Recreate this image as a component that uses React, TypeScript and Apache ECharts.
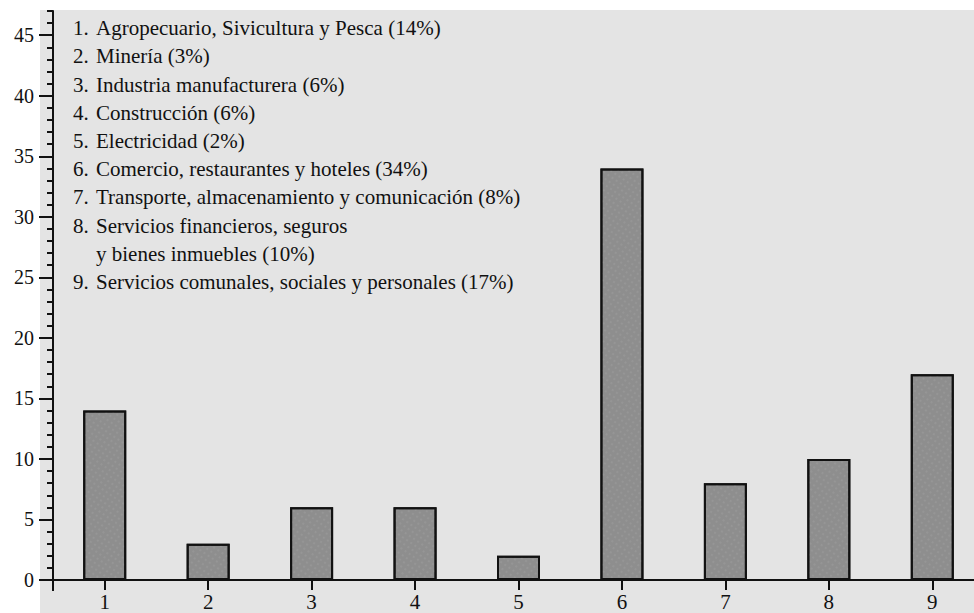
import React, { useEffect, useRef } from "react";
import * as echarts from "echarts";

const categories = ["1", "2", "3", "4", "5", "6", "7", "8", "9"];
const values = [14, 3, 6, 6, 2, 34, 8, 10, 17];
const legendNumbers = ["1.", "2.", "3.", "4.", "5.", "6.", "7.", "8.", "", "9."];
const legendLabels = [
  "Agropecuario, Sivicultura y Pesca (14%)",
  "Minería (3%)",
  "Industria manufacturera (6%)",
  "Construcción (6%)",
  "Electricidad (2%)",
  "Comercio, restaurantes y hoteles (34%)",
  "Transporte, almacenamiento y comunicación (8%)",
  "Servicios financieros, seguros",
  "y bienes inmuebles (10%)",
  "Servicios comunales, sociales y personales (17%)",
];
const majorTicks = [0, 5, 10, 15, 20, 25, 30, 35, 40, 45];

const SERIF = "Liberation Serif";

export default function App() {
  const ref = useRef<HTMLDivElement>(null);
  useEffect(() => {
    if (!ref.current) return;
    const chart = echarts.init(ref.current, null, { renderer: "svg" });
    const option: any = {
      animation: false,
      backgroundColor: "#ffffff",
      grid: { left: 53, right: -10, top: 11, bottom: 33, containLabel: false, outerBoundsMode: "none" },
      xAxis: {
        type: "category",
        data: categories,
        boundaryGap: true,
        axisLine: { show: true, lineStyle: { color: "#111", width: 2 } },
        axisTick: { show: true, alignWithLabel: true, length: 10, lineStyle: { color: "#111", width: 2 } },
        axisLabel: { color: "#111", fontFamily: SERIF, fontSize: 21, margin: 11, lineHeight: 21 },
        splitLine: { show: false },
      },
      yAxis: [
        {
          type: "value",
          min: 0,
          max: 47,
          interval: 1,
          axisLine: { show: true, onZero: false, lineStyle: { color: "#111", width: 2 } },
          axisTick: { show: true, length: 6, lineStyle: { color: "#111", width: 2 } },
          axisLabel: {
            color: "#111",
            fontFamily: SERIF,
            fontSize: 20,
            margin: 19,
            formatter: (v: number) => (v % 5 === 0 ? String(v) : ""),
          },
          splitLine: { show: false },
        },
        {
          type: "value",
          min: 0,
          max: 47,
          position: "left",
          axisLine: { show: false },
          axisTick: { show: true, length: 14, customValues: majorTicks, lineStyle: { color: "#111", width: 2 } },
          axisLabel: { show: false },
          splitLine: { show: false },
        },
      ],
      aria: { enabled: false, decal: { show: true } },
      series: [
        {
          type: "bar",
          data: values,
          barWidth: 43,
          itemStyle: {
            color: "#8e8e8e",
            borderColor: "#111",
            borderWidth: 2,
            decal: {
              symbol: "rect",
              symbolSize: 0.6,
              color: "rgba(210,210,210,0.35)",
              dashArrayX: [[2, 3]],
              dashArrayY: [2, 3],
              rotation: 0.6,
            },
          },
        },
      ],
    };
    chart.setOption(option);
    const x0 = 53;
    const y0 = chart.convertToPixel({ yAxisIndex: 0 } as any, 0) as number;
    chart.setOption({
      graphic: [
        { type: "rect", z: -10, shape: { x: 40, y: 10, width: 1000, height: 700 }, style: { fill: "#e4e4e4" } },
        { type: "line", z: 5, shape: { x1: 40, y1: y0, x2: x0, y2: y0 }, style: { stroke: "#111", lineWidth: 2 } },
        { type: "line", z: 5, shape: { x1: x0, y1: y0, x2: x0, y2: y0 + 11 }, style: { stroke: "#111", lineWidth: 2 } },
        {
          type: "text",
          z: 10,
          x: 73,
          y: 14,
          style: {
            text: legendNumbers.join("\n"),
            fontFamily: SERIF,
            fontSize: 21,
            fill: "#111",
            lineHeight: 28.2,
            verticalAlign: "top",
          },
        },
        {
          type: "text",
          z: 10,
          x: 96,
          y: 14,
          style: {
            text: legendLabels.join("\n"),
            fontFamily: SERIF,
            fontSize: 21,
            fill: "#111",
            lineHeight: 28.2,
            verticalAlign: "top",
          },
        },
      ],
    });
    return () => chart.dispose();
  }, []);
  return <div ref={ref} style={{ width: 974, height: 613, position: "fixed", left: 0, top: 0 }} />;
}
